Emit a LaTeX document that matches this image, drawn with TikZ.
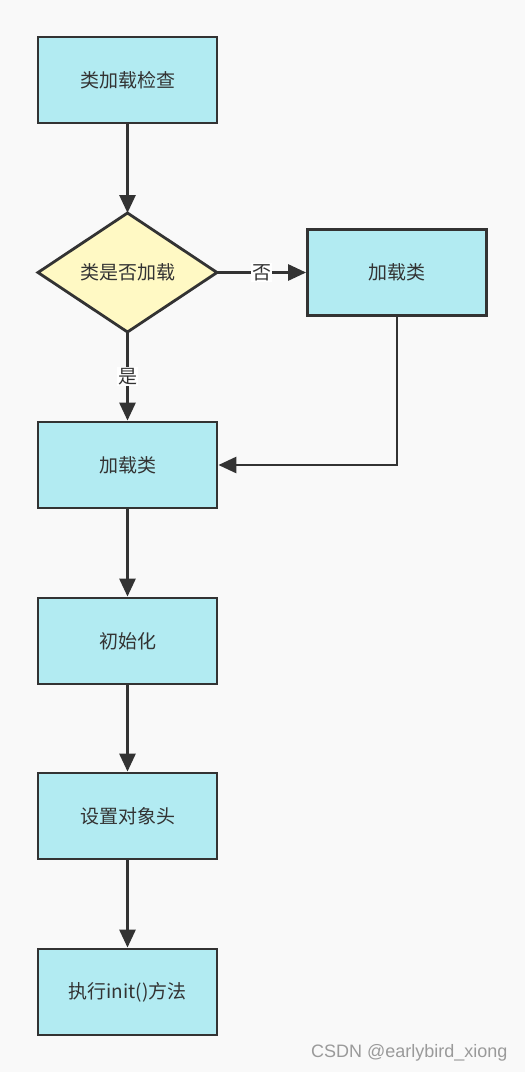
\documentclass[tikz,border=0pt]{standalone}
\usepackage{fontspec}
\setmainfont{Noto Sans CJK SC}
\usetikzlibrary{arrows.meta}
\definecolor{bg}{HTML}{F9F9F9}
\definecolor{boxfill}{HTML}{B2EBF2}
\definecolor{diafill}{HTML}{FFF9C4}
\definecolor{edge}{HTML}{333333}
\definecolor{wm}{HTML}{9A9A9A}
\begin{document}
\begin{tikzpicture}[x=1pt,y=-1pt,
  txt/.style={font=\fontsize{19pt}{22pt}\selectfont,text=edge},
  procbox/.style={txt,draw=edge,line width=2.8pt,fill=boxfill,minimum width=179pt,minimum height=86pt,inner sep=0pt},
  flow/.style={draw=edge,line width=2.8pt,-{Triangle[length=18pt,width=16pt]}},
  lbl/.style={txt,fill=white,inner sep=1pt}
]
\fill[bg] (0,0) rectangle (525,1072);
\useasboundingbox (0,0) rectangle (525,1072);
\node[procbox] (check) at (127.5,80) {类加载检查};
\coordinate (dtop) at (127.5,213);
\coordinate (dbot) at (127.5,332);
\coordinate (dright) at (217,272.5);
\coordinate (dleft) at (38,272.5);
\draw[edge,line width=2.8pt,fill=diafill,line join=miter] (dleft) -- (dtop) -- (dright) -- (dbot) -- cycle;
\node[txt] (dec) at (127.5,272.5) {类是否加载};
\node[procbox] (loadr) at (397,272.5) {加载类};
\node[procbox] (load) at (127.5,465) {加载类};
\node[procbox] (init) at (127.5,641) {初始化};
\node[procbox] (header) at (127.5,816) {设置对象头};
\node[procbox] (exec) at (127.5,992) {执行init()方法};
\coordinate (corner) at (397,465);
\draw[flow] (check.south) -- (dtop);
\draw[flow] (dright) -- node[lbl] (no) {否} (loadr.west);
\draw[flow] (dbot) -- node[lbl,pos=0.5] (yes) {是} (load.north);
\draw[flow] (loadr.south) -- (corner) -- (load.east);
\draw[flow] (load.south) -- (init.north);
\draw[flow] (init.south) -- (header.north);
\draw[flow] (header.south) -- (exec.north);
\node[anchor=east,text=wm,font=\fontsize{18pt}{20pt}\selectfont] (mark) at (511,1053) {\fontspec{Liberation Sans}CSDN @earlybird\_xiong};
\end{tikzpicture}
\end{document}
